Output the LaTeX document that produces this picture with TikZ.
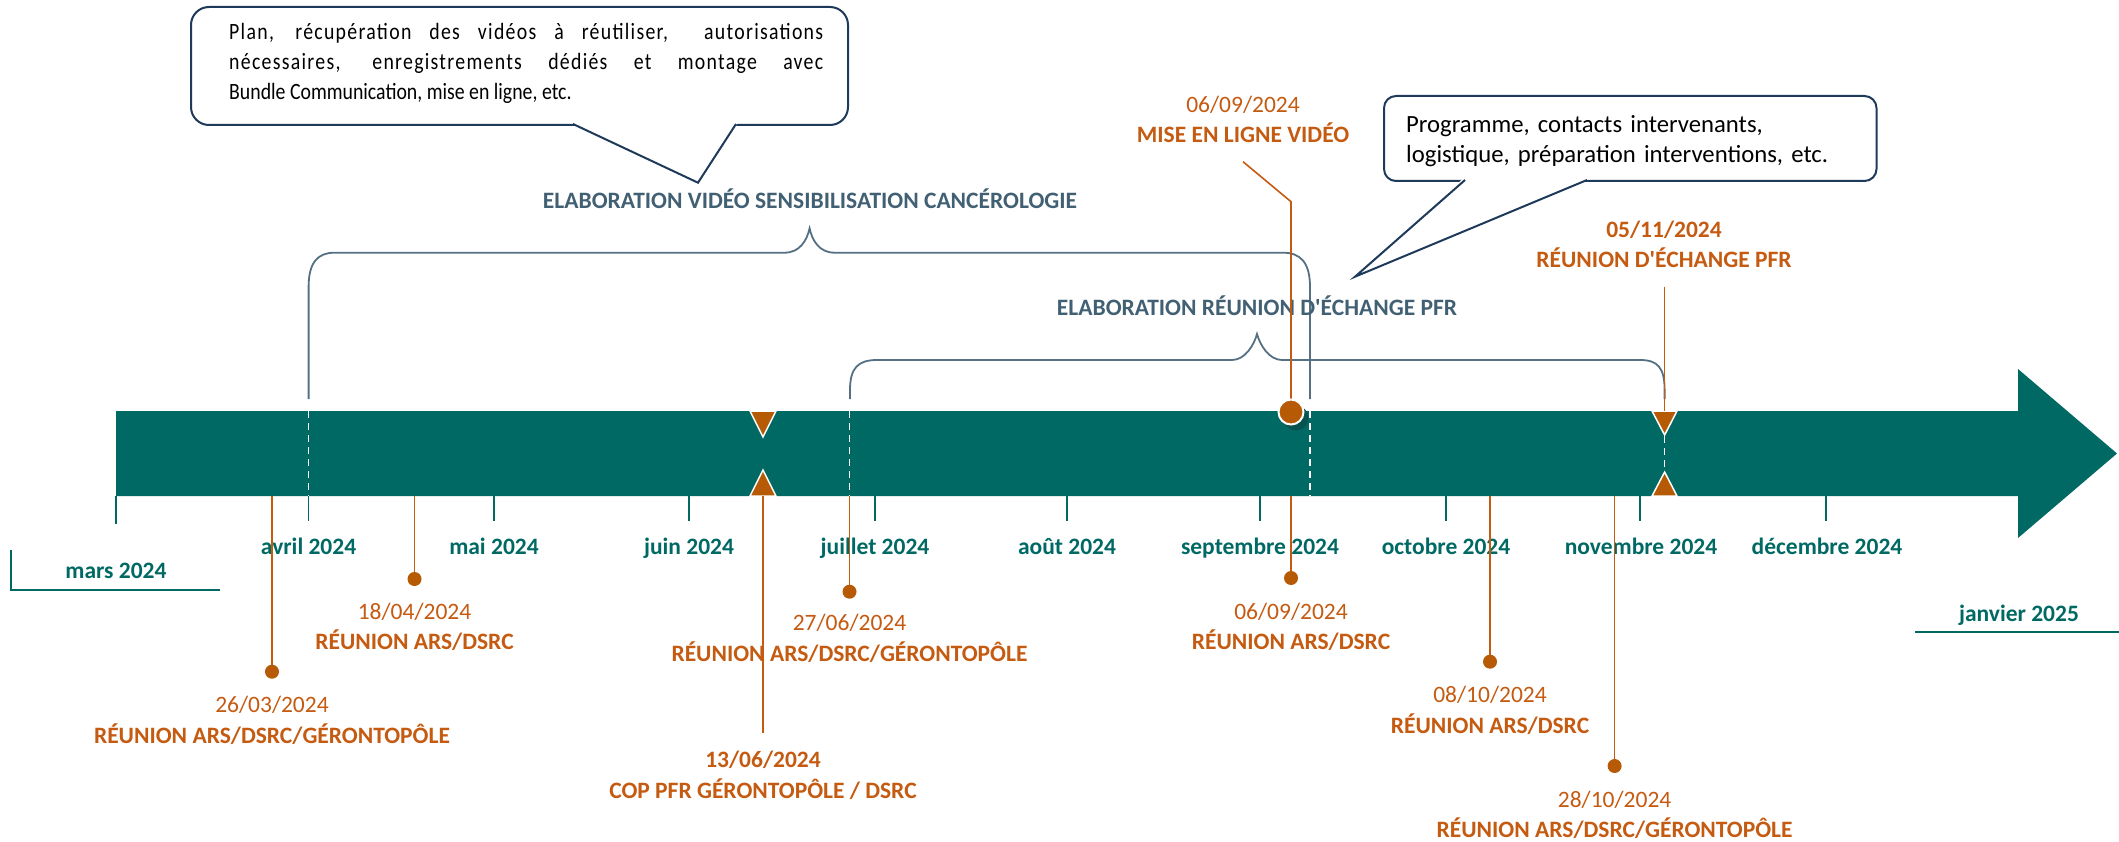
\documentclass[tikz,border=0pt]{standalone}
\usepackage{fontspec}
\setmainfont{Carlito}
\definecolor{band}{RGB}{0,105,100}
\definecolor{orng}{RGB}{197,90,17}
\definecolor{dorng}{RGB}{182,90,5}
\definecolor{slate}{RGB}{66,96,115}
\definecolor{brk}{RGB}{84,112,130}
\definecolor{navy}{RGB}{30,58,90}
\definecolor{shadowc}{RGB}{8,82,80}
\newcommand{\jline}[1]{\makebox[594pt][s]{\addfontfeature{LetterSpace=6.5}\spaceskip=0.226em plus 1fil\relax #1}}
\begin{document}
\begin{tikzpicture}[x=1pt,y=-1pt,
 month/.style={font=\fontsize{23.5}{28}\selectfont\bfseries, text=band, anchor=base, inner sep=0pt},
 datetxt/.style={font=\fontsize{23.5}{28}\selectfont, text=orng, anchor=base, inner sep=0pt},
 evlabel/.style={font=\fontsize{23.5}{28}\selectfont\bfseries, text=orng, anchor=base, inner sep=0pt},
 heading/.style={font=\fontsize{23.5}{28}\selectfont\bfseries, text=slate, anchor=base, inner sep=0pt},
 oline/.style={draw=orng, line width=1.6pt},
 tickline/.style={draw=band, line width=1.6pt},
 brace/.style={draw=brk, line width=1.8pt},
 wdash/.style={draw=white, line width=1.6pt, dash pattern=on 7pt off 5pt},
 dot/.style={circle, fill=dorng, inner sep=0pt, minimum size=14pt},
 tri/.style={fill=dorng, draw=white, line width=1.5pt, line join=miter},
 cbox/.style={draw=navy, line width=2pt, fill=white, rounded corners=18pt, inner sep=0pt, anchor=north west},
 cptr/.style={draw=navy, line width=2pt, line join=miter},
]
\useasboundingbox (0,0) rectangle (2119,842);

% ---- timeline band ----
\fill[band] (116,411) -- (2018,411) -- (2018,369) -- (2117,453.5) -- (2018,538) -- (2018,496) -- (116,496) -- cycle;
\draw[wdash] (308.6,411) -- (308.6,496);
\draw[wdash] (849.5,411) -- (849.5,496);
\draw[wdash] (1310,411) -- (1310,496);
\draw[wdash] (1664.6,436) -- (1664.6,471);

% ---- month ticks ----
\foreach \n/\x/\e in {mar/116/524, avr/308.6/521, mai/494/521, jun/689/521, jul/875/521, aou/1067/521, sep/1260/521, oct/1446/521, nov/1640/521, dec/1826/521}{
  \coordinate (t\n a) at (\x,496);
  \coordinate (t\n b) at (\x,\e);
  \draw[tickline] (t\n a) -- (t\n b);
}
\node[month] (lmar) at (116,578) {mars 2024};
\coordinate (mbx1) at (11,550); \coordinate (mbx2) at (11,590); \coordinate (mbx3) at (220,590);
\draw[tickline] (mbx1) -- (mbx2) -- (mbx3);
\node[month] (lavr) at (308.6,554) {avril 2024};
\node[month] (lmai) at (494,554) {mai 2024};
\node[month] (ljun) at (689,554) {juin 2024};
\node[month] (ljul) at (875,554) {juillet 2024};
\node[month] (laou) at (1067,554) {août 2024};
\node[month] (lsep) at (1260,554) {septembre 2024};
\node[month] (loct) at (1446,554) {octobre 2024};
\node[month] (lnov) at (1641,554) {novembre 2024};
\node[month] (ldec) at (1827,554) {décembre 2024};
\node[month] (ljan) at (2019,621) {janvier 2025};
\coordinate (jb1) at (1915,632); \coordinate (jb2) at (2119,632);
\draw[tickline] (jb1) -- (jb2);

% ---- braces ----
\draw[brace] (308.6,399) -- (308.6,287) .. controls (308.6,262) and (318,252.7) .. (334.6,252.7) -- (784.6,252.7) .. controls (800,252.7) and (807,240) .. (809.6,228.3) .. controls (812,240) and (819,252.7) .. (834.6,252.7) -- (1283,252.7) .. controls (1300,252.7) and (1310,262) .. (1310,287) -- (1310,399);
\draw[brace] (850,399) -- (850,390) .. controls (850,368) and (858,360) .. (877,360) -- (1232,360) .. controls (1245,360) and (1254,345) .. (1257,334) .. controls (1260,345) and (1269,360) .. (1282,360) -- (1640,360) .. controls (1658,360) and (1664.6,368) .. (1664.6,390) -- (1664.6,399);
\node[heading] (h1) at (810,208.5) {ELABORATION VIDÉO SENSIBILISATION CANCÉROLOGIE};
\node[heading] (h2) at (1257,315.5) {ELABORATION RÉUNION D\textquotesingle ÉCHANGE PFR};

% ---- triangles ----
\draw[tri] (750,411) -- (776,411) -- (763,437) -- cycle;
\draw[tri] (750,496) -- (776,496) -- (763,470) -- cycle;
\draw[tri] (1652,411) -- (1677,411) -- (1664.6,435) -- cycle;
\draw[tri] (1652,496) -- (1677,496) -- (1664.6,472) -- cycle;

% ---- events below ----
\coordinate (e1a) at (272,496); \node[dot] (e1d) at (272,671.7) {};
\draw[oline] (e1a) -- (e1d);
\node[datetxt] (e1t) at (272,712.5) {26/03/2024};
\node[evlabel] (e1l) at (272,743.5) {RÉUNION ARS/DSRC/GÉRONTOPÔLE};

\coordinate (e2a) at (414.5,496); \node[dot] (e2d) at (414.5,579) {};
\draw[oline] (e2a) -- (e2d);
\node[datetxt] (e2t) at (414.5,619.5) {18/04/2024};
\node[evlabel] (e2l) at (414.5,649.5) {RÉUNION ARS/DSRC};

\coordinate (e3a) at (763,496); \coordinate (e3b) at (763,733);
\draw[oline] (e3a) -- (e3b);
\node[evlabel] (e3t) at (763,767.5) {13/06/2024};
\node[evlabel] (e3l) at (763,798) {COP PFR GÉRONTOPÔLE / DSRC};

\coordinate (e4a) at (849.5,496); \node[dot] (e4d) at (849.5,591.7) {};
\draw[oline] (e4a) -- (e4d);
\node[datetxt] (e4t) at (849.5,630.5) {27/06/2024};
\node[evlabel] (e4l) at (849.5,661.5) {RÉUNION ARS/DSRC/GÉRONTOPÔLE};

\coordinate (e5a) at (1291,496); \node[dot] (e5d) at (1291,578) {};
\draw[oline] (e5a) -- (e5d);
\node[datetxt] (e5t) at (1291,619) {06/09/2024};
\node[evlabel] (e5l) at (1291,649.5) {RÉUNION ARS/DSRC};

\coordinate (e6a) at (1490,496); \node[dot] (e6d) at (1490,661.7) {};
\draw[oline] (e6a) -- (e6d);
\node[datetxt] (e6t) at (1490,702.5) {08/10/2024};
\node[evlabel] (e6l) at (1490,733) {RÉUNION ARS/DSRC};

\coordinate (e7a) at (1614.6,496); \node[dot] (e7d) at (1614.6,766) {};
\draw[oline] (e7a) -- (e7d);
\node[datetxt] (e7t) at (1614.6,807) {28/10/2024};
\node[evlabel] (e7l) at (1614.6,837.5) {RÉUNION ARS/DSRC/GÉRONTOPÔLE};

% ---- events above ----
\coordinate (e8a) at (1664.6,286.7); \coordinate (e8b) at (1664.6,411);
\draw[oline] (e8a) -- (e8b);
\node[evlabel] (e8t) at (1664,237.5) {05/11/2024};
\node[evlabel] (e8l) at (1664,267.5) {RÉUNION D\textquotesingle ÉCHANGE PFR};

\coordinate (e9b) at (1291,201.7); \coordinate (e9c) at (1243,161.7);
\fill[shadowc] (1296,418) circle[radius=12.5pt];
\node[circle, fill=dorng, draw=white, line width=2pt, inner sep=0pt, minimum size=25pt] (e9d) at (1291,412) {};
\draw[oline] (e9d.north) -- (e9b) -- (e9c);
\node[datetxt] (e9t) at (1243,112.5) {06/09/2024};
\node[evlabel] (e9l) at (1243,142.5) {MISE EN LIGNE VIDÉO};

% ---- callout 1 ----
\node[cbox, minimum width=657pt, minimum height=118pt] (c1) at (190,6) {};
\fill[white] (571,122.6) -- (698,182.7) -- (738,122.6) -- cycle;
\draw[cptr] (573,124) -- (698,182.7) -- (736,124);
\node[anchor=base west, inner sep=0pt] (c1t) at (229,39.5)
 {\scalebox{1}[1.18]{\parbox[t]{600pt}{\fontsize{19.8}{25.42}\selectfont
  \jline{Plan, récupération des vidéos à réutiliser,\ \ autorisations}\\
  \jline{nécessaires, enregistrements dédiés et montage avec}\\
  Bundle Communication, mise en ligne, etc.}}};

% ---- callout 2 ----
\node[cbox, rounded corners=12pt, minimum width=492.5pt, minimum height=85pt] (c2) at (1383,95) {};
\fill[white] (1463,178.6) -- (1355,276.7) -- (1590,178.6) -- cycle;
\draw[cptr] (1465,180) -- (1355,276.7) -- (1587,180);
\node[anchor=base west, inner sep=0pt, text width=470pt, align=left, font=\fontsize{24.7}{30}\selectfont] (c2t) at (1406,133)
 {Programme, contacts intervenants,\\logistique, préparation interventions, etc.};
\end{tikzpicture}
\end{document}
